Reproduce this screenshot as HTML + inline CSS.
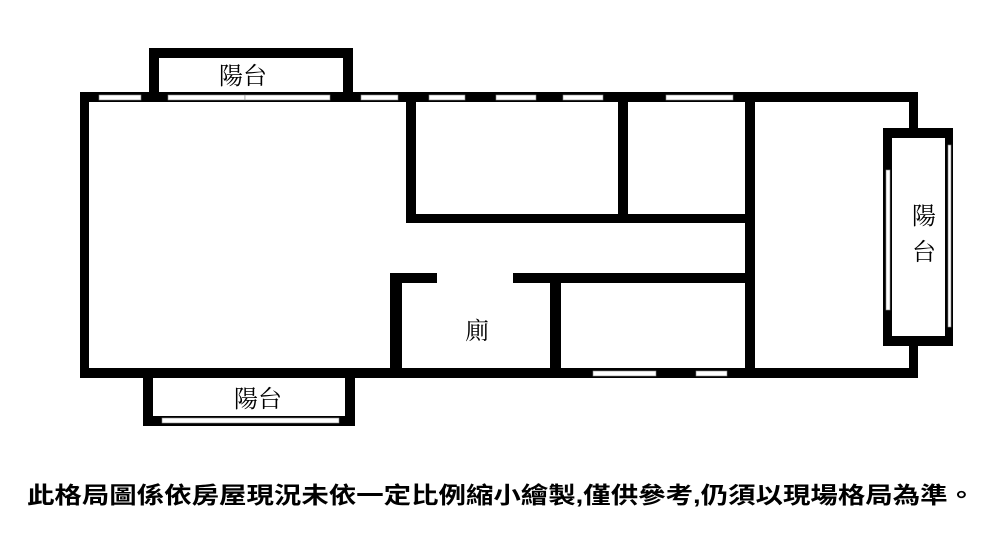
<!DOCTYPE html>
<html><head><meta charset="utf-8"><style>
html,body{margin:0;padding:0;background:#fff;width:1000px;height:533px;overflow:hidden}
</style></head><body>
<svg width="1000" height="533" viewBox="0 0 1000 533" xmlns="http://www.w3.org/2000/svg">
<g fill="#000">
<!-- top balcony -->
<rect x="149" y="48" width="204" height="10"/>
<rect x="149" y="48" width="10" height="54"/>
<rect x="343" y="48" width="10" height="54"/>
<!-- outer walls -->
<rect x="80" y="92" width="838" height="10"/>
<rect x="80" y="92" width="9" height="286"/>
<rect x="80" y="368" width="838" height="10"/>
<rect x="909" y="92" width="9" height="40"/>
<rect x="909" y="340" width="9" height="38"/>
<!-- right balcony -->
<rect x="883" y="128" width="70" height="10"/>
<rect x="883" y="336" width="70" height="10"/>
<rect x="883" y="128" width="9" height="218"/>
<rect x="945" y="128" width="8" height="218"/>
<!-- interior -->
<rect x="406" y="101" width="10" height="122"/>
<rect x="406" y="214" width="349" height="9"/>
<rect x="618" y="101" width="10" height="118"/>
<rect x="745" y="101" width="10" height="272"/>
<rect x="390" y="273" width="12" height="100"/>
<rect x="390" y="273" width="47" height="10"/>
<rect x="513" y="273" width="236" height="10"/>
<rect x="550" y="278" width="11" height="95"/>
<!-- bottom balcony -->
<rect x="143" y="375" width="10" height="51"/>
<rect x="345" y="375" width="10" height="51"/>
<rect x="143" y="416" width="212" height="10"/>
</g>
<g fill="#fff" stroke="#888" stroke-width="0.6">
<rect x="99" y="95" width="42" height="5"/>
<rect x="168" y="95" width="77" height="5"/>
<rect x="245" y="95" width="85" height="5"/>
<rect x="361" y="95" width="37" height="5"/>
<rect x="429" y="95" width="36" height="5"/>
<rect x="496" y="95" width="40" height="5"/>
<rect x="563" y="95" width="40" height="5"/>
<rect x="666" y="95" width="67" height="5"/>
<rect x="593" y="371" width="63" height="5"/>
<rect x="696" y="371" width="31" height="5"/>
<rect x="162" y="418" width="177" height="5"/>
<rect x="886" y="170" width="4" height="140"/>
<rect x="948" y="145" width="3" height="182"/>
</g>
<g font-family="'Liberation Serif','Noto Serif CJK TC','Noto Serif CJK SC',serif" font-size="24" fill="#000" text-anchor="middle">
<text x="243" y="84">陽台</text>
<text x="258" y="407">陽台</text>
<text x="924" y="224">陽</text>
<text x="924" y="260">台</text>
<text x="477" y="339">廁</text>
</g>
<text x="27" y="503" textLength="948" lengthAdjust="spacingAndGlyphs" font-family="'Liberation Sans','Noto Sans CJK TC',sans-serif" font-size="23" font-weight="bold" fill="#000">此格局圖係依房屋現況未依一定比例縮小繪製,僅供參考,仍須以現場格局為準。</text>
</svg>
</body></html>
